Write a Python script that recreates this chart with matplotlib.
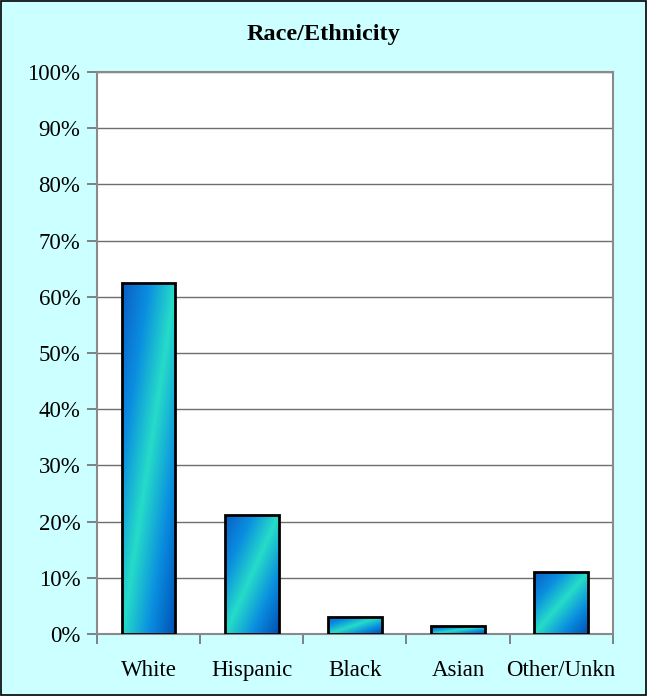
import numpy as np
import matplotlib.pyplot as plt
from matplotlib.colors import LinearSegmentedColormap
from matplotlib.patches import Rectangle

categories = ['White', 'Hispanic', 'Black', 'Asian', 'Other/Unkn']
values = [62.5, 21.2, 3.1, 1.4, 11.0]
yticks = [0, 10, 20, 30, 40, 50, 60, 70, 80, 90, 100]

plt.rcParams['font.family'] = ['Liberation Serif', 'DejaVu Serif']

fig = plt.figure(figsize=(6.47, 6.96), dpi=100, facecolor='#ccffff')
ax = fig.add_axes([0.150, 0.0891, 0.797, 0.8075])
ax.set_facecolor('white')

# border round the whole picture
fig.patches.append(Rectangle((0.002, 0.002), 0.996, 0.996, transform=fig.transFigure,
                             fill=False, edgecolor='black', linewidth=1.2))

# cyan along the bar's diagonal, blue towards the other corners
grad = LinearSegmentedColormap.from_list(
    'grad', [(0.0, '#0a5fc4'), (0.25, '#0a8ee0'), (0.5, '#26dcc8'),
             (0.75, '#0a8ee0'), (1.0, '#0050b4')])

x = np.arange(len(categories))
width = 0.52
bars = ax.bar(x, values, width=width, color='none', edgecolor='black',
              linewidth=2, zorder=3)

ax.set_xlim(-0.5, len(categories) - 0.5)
ax.set_ylim(0, 100)

# diagonal gradient fill, clipped to each bar
for b in bars:
    x0, y0 = b.get_x(), b.get_y()
    w, h = b.get_width(), b.get_height()
    u = np.linspace(0, 1, 80)
    v = np.linspace(0, 1, 80)
    U, V = np.meshgrid(u, v)
    s = (U - V + 1) / 2
    im = ax.imshow(s, cmap=grad, extent=(x0, x0 + w, y0, y0 + h), origin='lower',
                   aspect='auto', interpolation='bilinear', zorder=2, vmin=0, vmax=1)
    im.set_clip_path(b)

ax.set_yticks(yticks)
ax.set_yticklabels([f'{v}%' for v in yticks], fontsize=16.5)
ax.yaxis.grid(True, color='#6e6e6e', linewidth=1)
ax.set_axisbelow(True)

ax.set_xticks(np.arange(-0.5, len(categories), 1.0))
ax.set_xticklabels([])
ax.set_xticks(x, minor=True)
ax.set_xticklabels(categories, minor=True, fontsize=16.5)
ax.tick_params(axis='x', which='minor', length=0, pad=19)
ax.tick_params(axis='x', which='major', length=7, color='#6e6e6e', width=1.2)
ax.tick_params(axis='y', length=7, color='#6e6e6e', width=1.2, pad=5)

for s in ax.spines.values():
    s.set_color('#8a8a8a')
    s.set_linewidth(1.5)

fig.text(0.5, 0.95, 'Race/Ethnicity', ha='center', va='center', fontsize=17.5,
         fontweight='bold')

fig.savefig('out.png', dpi=100, facecolor=fig.get_facecolor())
